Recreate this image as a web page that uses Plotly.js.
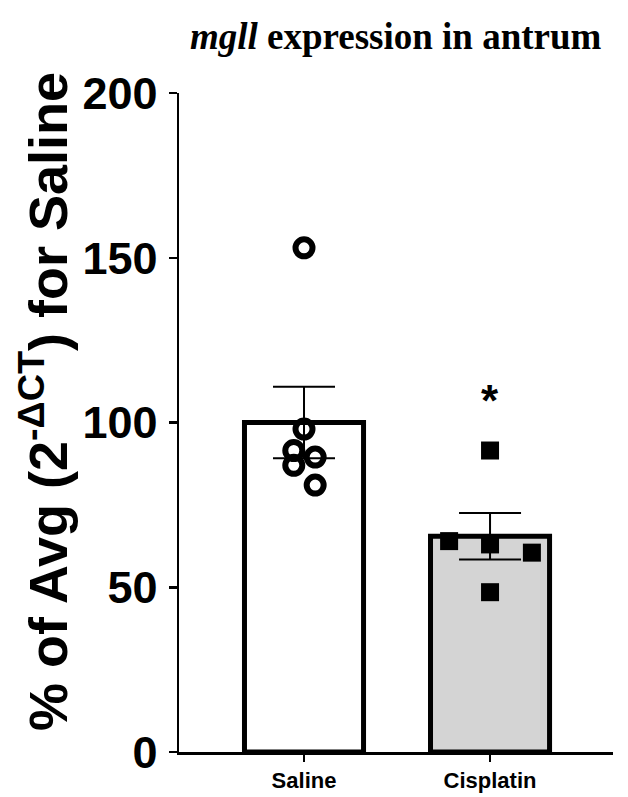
<!DOCTYPE html>
<html>
<head>
<meta charset="utf-8">
<script src="https://cdn.plot.ly/plotly-3.0.1.min.js"></script>
<style>html,body{margin:0;padding:0;background:#fff;}#chart{width:628px;height:797px;}</style>
</head>
<body>
<div id="chart"></div>
<script>
// ---- data ----
const categories = ['Saline', 'Cisplatin'];
const salineValues = [153, 98, 91.5, 89.5, 87, 81];
const cisplatinValues = [91.5, 64, 63, 60.5, 48.5];
// horizontal scatter (jitter) of the individual points, in category units
const salineJitter = [0, 0, -0.055, 0.06, -0.055, 0.06];
const cisplatinJitter = [0, -0.22, 0, 0.225, 0];
const yTicks = [0, 50, 100, 150, 200];
const significance = ['', '*'];

function mean(a) { return a.reduce((s, v) => s + v, 0) / a.length; }
function sem(a) {
  const m = mean(a);
  const v = a.reduce((s, x) => s + (x - m) * (x - m), 0) / (a.length - 1);
  return Math.sqrt(v) / Math.sqrt(a.length);
}
const groups = [salineValues, cisplatinValues];
const means = groups.map(mean);
const sems = groups.map(sem);
const idx = categories.map((c, i) => i);

const traces = [
  {
    type: 'bar', x: idx, y: means, width: 0.64,
    marker: { color: ['#ffffff', '#d4d4d4'], line: { color: '#000', width: 5 } },
    hoverinfo: 'none', showlegend: false
  },
  {
    type: 'scatter', mode: 'markers',
    x: salineValues.map((v, i) => 0 + salineJitter[i]), y: salineValues,
    marker: { symbol: 'circle-open', size: 17, color: '#000', line: { color: '#000', width: 6 } },
    showlegend: false
  },
  {
    type: 'scatter', mode: 'markers',
    x: cisplatinValues.map((v, i) => 1 + cisplatinJitter[i]), y: cisplatinValues,
    marker: { symbol: 'square', size: 18, color: '#000', line: { width: 0 } },
    showlegend: false
  },
  {
    type: 'scatter', mode: 'markers', x: idx, y: means,
    marker: { size: 1, opacity: 0 },
    error_y: { type: 'data', array: sems, visible: true, color: '#000', thickness: 2, width: 31 },
    showlegend: false, hoverinfo: 'none'
  }
];

const layout = {
  width: 628, height: 797,
  margin: { l: 179, r: 15, t: 93, b: 45, pad: 0 },
  paper_bgcolor: '#fff', plot_bgcolor: '#fff',
  showlegend: false,
  title: {
    text: '<b><i>mgll</i> expression in antrum</b>',
    font: { family: 'Liberation Serif', size: 37, color: '#000' },
    xref: 'container', yref: 'container', x: 0.63, xanchor: 'center', y: 0.955, yanchor: 'middle'
  },
  xaxis: {
    range: [-0.672, 1.661], tickvals: idx, ticktext: categories.map(c => '<b>' + c + '</b>'),
    showline: true, linecolor: '#000', linewidth: 2.5, ticks: 'outside', ticklen: 7, tickwidth: 2.5, tickcolor: '#000',
    showgrid: false, zeroline: false, fixedrange: true,
    tickfont: { family: 'Liberation Sans', size: 22, color: '#000' }
  },
  yaxis: {
    range: [0, 200], tickvals: yTicks, ticktext: yTicks.map(t => '<b>' + t + '</b>'),
    showline: true, linecolor: '#000', linewidth: 2.5, ticks: 'outside', ticklen: 8, tickwidth: 2.5, tickcolor: '#000',
    showgrid: false, zeroline: false, fixedrange: true, ticklabelstandoff: 2,
    tickfont: { family: 'Liberation Sans', size: 45, color: '#000' }
  },
  annotations: [
    {
      text: '<b>% of Avg (2<sup>-ΔCT</sup>) for Saline</b>', textangle: -90,
      xref: 'paper', yref: 'paper', x: -0.311, y: 0.531, xanchor: 'center', yanchor: 'middle',
      showarrow: false, font: { family: 'Liberation Sans', size: 54, color: '#000' }
    }
  ].concat(significance.map((s, i) => ({
    text: '<b>' + s + '</b>', x: i, y: 109, xref: 'x', yref: 'y', showarrow: false,
    yanchor: 'middle', yshift: -8, font: { family: 'Liberation Sans', size: 44, color: '#000' }
  })).filter(a => a.text !== '<b></b>'))
};

Plotly.newPlot('chart', traces, layout, { displayModeBar: false, staticPlot: true });
</script>
</body>
</html>
